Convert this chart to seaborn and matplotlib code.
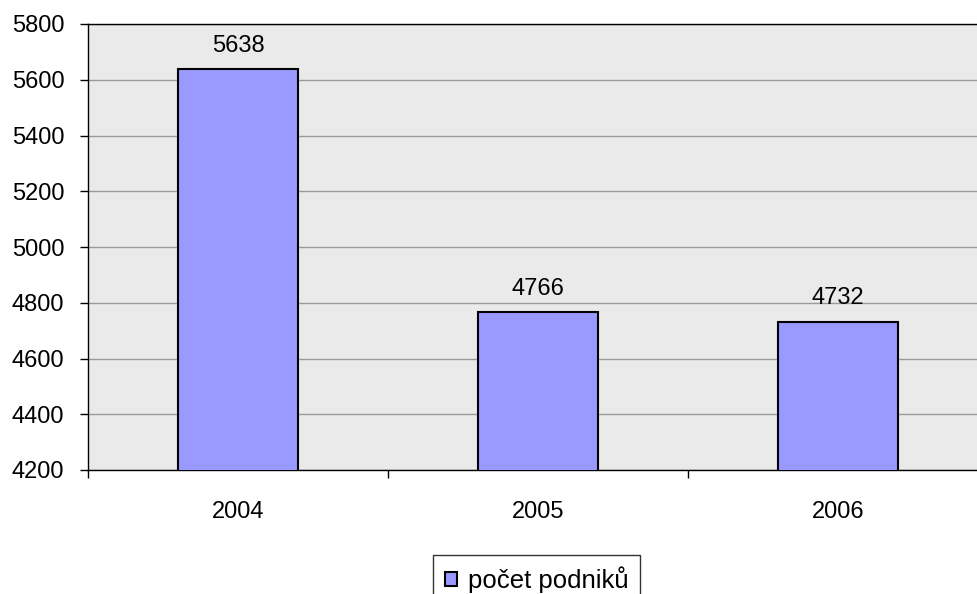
import seaborn as sns
import matplotlib.pyplot as plt
import pandas as pd

roky = ['2004', '2005', '2006']
pocet_podniku = [5638, 4766, 4732]
y_ticks = [4200, 4400, 4600, 4800, 5000, 5200, 5400, 5600, 5800]

df = pd.DataFrame({'rok': roky, 'pocet': pocet_podniku})

sns.set_style('white', {'xtick.bottom': True, 'ytick.left': True,
                        'text.color': 'black', 'xtick.color': 'black',
                        'ytick.color': 'black', 'axes.labelcolor': 'black'})
plt.rcParams['font.family'] = ['Liberation Sans', 'DejaVu Sans']
fs = 17

fig = plt.figure(figsize=(9.77, 5.94), dpi=100)
ax = fig.add_axes([88 / 977, 124 / 594, 900 / 977, 446 / 594])
ax.set_facecolor('#eaeaea')

sns.barplot(data=df, x='rok', y='pocet', color='#9999ff', width=0.4,
            edgecolor='black', linewidth=1.5, saturation=1, ax=ax,
            label='počet podniků', zorder=3)

ax.set_ylim(4200, 5800)
ax.set_xlim(-0.5, 2.5)
ax.set_yticks(y_ticks)
ax.yaxis.grid(True, color='#9a9a9a', linewidth=1, zorder=0)
ax.set_axisbelow(True)

ax.set_xticks([0, 1, 2])
ax.set_xticks([-0.5, 0.5, 1.5, 2.5], minor=True)
ax.tick_params(axis='x', which='major', bottom=False, length=0, pad=22, labelsize=fs)
ax.tick_params(axis='x', which='minor', bottom=True, length=6, width=1, color='black', direction='out')
ax.tick_params(axis='y', left=True, length=6, width=1, color='black', direction='out', labelsize=fs, pad=11)
ax.set_xlabel('')
ax.set_ylabel('')

for side in ['left', 'top', 'bottom', 'right']:
    ax.spines[side].set_color('black')
    ax.spines[side].set_linewidth(1.0)

ax.bar_label(ax.containers[0], labels=[str(v) for v in pocet_podniku],
             padding=9, fontsize=fs, color='black')

if ax.get_legend():
    ax.get_legend().remove()
handles, labels = ax.get_legend_handles_labels()
leg = fig.legend(handles, labels, loc='upper left', bbox_to_anchor=(433 / 977, 39 / 594),
                 frameon=True, fancybox=False, shadow=False, fontsize=18.5,
                 handlelength=0.5, handleheight=0.5, handletextpad=0.4,
                 borderpad=0.45, borderaxespad=0)
leg.get_frame().set_edgecolor('black')
leg.get_frame().set_linewidth(1)

fig.savefig('out.png', dpi=100)
